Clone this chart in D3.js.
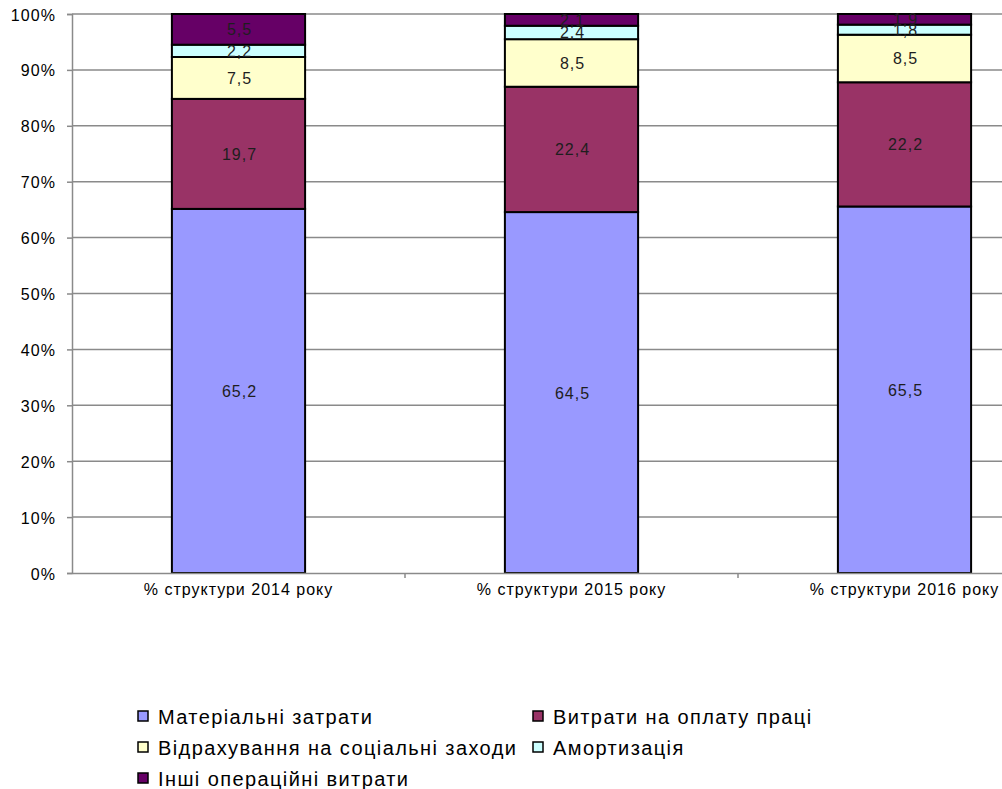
<!DOCTYPE html>
<html><head><meta charset="utf-8">
<script src="https://cdn.jsdelivr.net/npm/d3@7"></script>
<style>body{margin:0;background:#fff}svg{display:block}text{font-family:"Liberation Sans",Arial,sans-serif}</style>
</head><body><svg id="c" width="1002" height="789"></svg>
<script>
const categories = ["% структури 2014 року", "% структури 2015 року", "% структури 2016 року"];
const seriesNames = ["Матеріальні затрати", "Витрати на оплату праці", "Відрахування на соціальні заходи", "Амортизація", "Інші операційні витрати"];
const material = [65.2, 64.5, 65.5];
const labor = [19.7, 22.4, 22.2];
const social = [7.5, 8.5, 8.5];
const amort = [2.2, 2.4, 1.8];
const other = [5.5, 2.1, 1.9];
const yTicks = [0, 0.1, 0.2, 0.3, 0.4, 0.5, 0.6, 0.7, 0.8, 0.9, 1];
const colors = ["#9999FF", "#993366", "#FFFFCC", "#CCFFFF", "#660066"];

const series = [material, labor, social, amort, other];
const rows = categories.map((c, i) => {
  const r = {cat: c};
  const tot = d3.sum(series, s => s[i]);
  seriesNames.forEach((n, k) => { r[n] = series[k][i] / tot; r[n + "_v"] = series[k][i]; });
  return r;
});
const stack = d3.stack().keys(seriesNames)(rows);

const svg = d3.select("#c");
const pL = 72, pR = 1071, pT = 14, pB = 573;
const x = d3.scaleBand().domain(categories).range([pL, pR]).paddingInner(0.6).paddingOuter(0.3);
const xb = d3.scaleBand().domain(categories).range([pL, pR]);
const y = d3.scaleLinear().domain([0, 1]).range([pB, pT]);
const FF = "Liberation Sans, Arial, sans-serif";

// gridlines
svg.append("g").selectAll("line").data(yTicks.filter(t => t > 0)).join("line")
  .attr("x1", pL).attr("x2", 1002).attr("y1", d => y(d)).attr("y2", d => y(d))
  .attr("stroke", "#8a8a8a").attr("stroke-width", 1.5);

// y axis
const ya = svg.append("g").attr("transform", `translate(${pL},0)`)
  .call(d3.axisLeft(y).tickValues(yTicks).tickFormat(d3.format(".0%")).tickSize(5).tickPadding(11));
ya.select(".domain").attr("stroke", "#8a8a8a").attr("stroke-width", 1.5);
ya.selectAll(".tick line").attr("stroke", "#8a8a8a").attr("stroke-width", 1.5);
ya.selectAll("text").attr("font-size", 16).attr("fill", "#000").attr("font-family", FF)
  .attr("letter-spacing", 1.1).attr("dy", null).attr("y", 6);

// bars
const g = svg.append("g");
stack.forEach((s, k) => {
  g.append("g").selectAll("rect").data(s).join("rect")
    .attr("x", d => x(d.data.cat)).attr("width", x.bandwidth())
    .attr("y", d => y(d[1])).attr("height", d => y(d[0]) - y(d[1]))
    .attr("fill", colors[k]).attr("stroke", "#000").attr("stroke-width", 2);
});
stack.forEach((s, k) => {
  g.append("g").selectAll("text").data(s).join("text")
    .attr("x", d => x(d.data.cat) + x.bandwidth() / 2 + 1)
    .attr("y", d => (y(d[0]) + y(d[1])) / 2 + 6)
    .attr("text-anchor", "middle").attr("font-size", 16).attr("letter-spacing", 1).attr("fill", "#1e1e1e")
    .text(d => String(d.data[s.key + "_v"]).replace(".", ","));
});

// x axis
const xa = svg.append("g").attr("transform", `translate(0,${pB})`)
  .call(d3.axisBottom(xb).tickSize(0).tickPadding(10));
xa.select(".domain").attr("stroke", "#8a8a8a").attr("stroke-width", 1.5);
xa.selectAll("text").attr("font-size", 16).attr("fill", "#000").attr("font-family", FF)
  .attr("letter-spacing", 1).attr("dy", "0.75em");
svg.append("g").selectAll("line").data(categories.slice(1)).join("line")
  .attr("x1", d => xb(d)).attr("x2", d => xb(d)).attr("y1", pB).attr("y2", pB + 5)
  .attr("stroke", "#8a8a8a").attr("stroke-width", 1.5);

// legend
const legPos = [[138, 724], [533, 724], [138, 755], [533, 755], [138, 786]];
const lg = svg.append("g");
seriesNames.forEach((n, k) => {
  const [lx, ly] = legPos[k];
  lg.append("rect").attr("x", lx).attr("y", ly - 13).attr("width", 10).attr("height", 10)
    .attr("fill", colors[k]).attr("stroke", "#000").attr("stroke-width", 1.5);
  lg.append("text").attr("x", lx + 20).attr("y", ly).attr("font-size", 20).attr("letter-spacing", 1.4)
    .attr("fill", "#000").text(n);
});
</script></body></html>
